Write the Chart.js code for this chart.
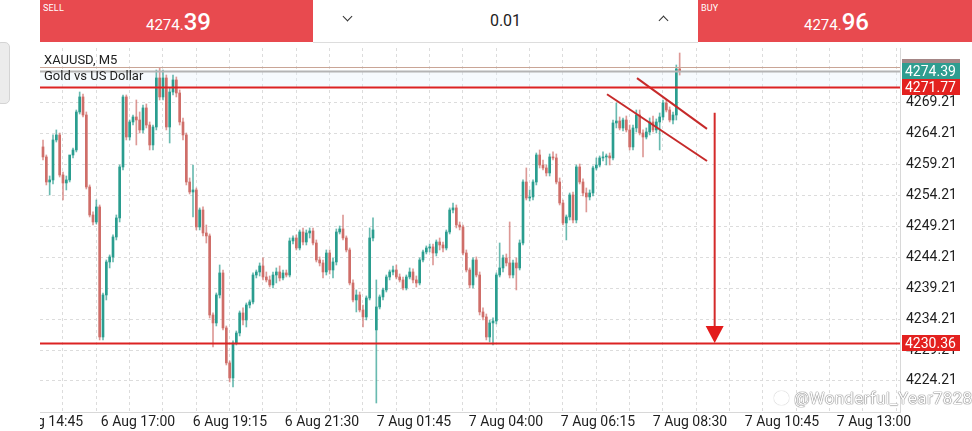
<!DOCTYPE html>
<html>
<head>
<meta charset="utf-8">
<script src="https://cdn.jsdelivr.net/npm/chart.js@4.4.0/dist/chart.umd.min.js"></script>
<style>
  html, body { margin: 0; padding: 0; background: #fff; }
  body { width: 972px; height: 431px; position: relative; overflow: hidden; font-family: Roboto, "Noto Sans", sans-serif; }
  #chart { position: absolute; left: 0; top: 0; }
  .box { position: absolute; top: 0; height: 42px; color: #fff; }
  .red { background: #e84a4f; }
  .tag { position: absolute; left: 3px; top: 3px; font-size: 9px; letter-spacing: 0.2px; }
  .px { position: absolute; top: 8px; font-size: 15px; white-space: nowrap; }
  .px b { font-size: 24px; font-weight: 500; }
  #mid { left: 313px; width: 385px; background: #fff; border-bottom: 1px solid #ddd; }
  .chev { position: absolute; top: 15px; width: 6px; height: 6px; border-right: 1.5px solid #333; border-bottom: 1.5px solid #333; }
  #lot { position: absolute; left: 0; width: 385px; top: 11px; text-align: center; font-size: 16px; color: #222; }
  .legend { position: absolute; left: 44px; font-size: 13px; color: #222; line-height: 14px; }
  #side { position: absolute; left: -4px; top: 42px; width: 12px; height: 60px; background: #ececec; border: 1px solid #d4d4d4; border-radius: 5px; }
  #mark { position: absolute; left: 774px; top: 388px; font-size: 17px; color: #fff; letter-spacing: 0.3px;
          text-shadow: 0 0 1px #777, 0 0 1px #777, 0 0 1px #777; white-space: nowrap; }
  #mark i { display: inline-block; width: 13px; height: 12px; border: 1.5px solid #fff; border-radius: 50%;
            box-shadow: 0 0 1px #777; margin-right: 5px; vertical-align: -1px; }
</style>
</head>
<body>
<canvas id="chart" width="972" height="431"></canvas>

<div id="side"></div>
<div class="box red" style="left:40px;width:273px;">
  <span class="tag">SELL</span>
  <span class="px" style="left:106px;">4274.<b>39</b></span>
</div>
<div class="box" id="mid">
  <span class="chev" style="left:31px;transform:rotate(45deg);top:13px;"></span>
  <div id="lot">0.01</div>
  <span class="chev" style="left:347px;transform:rotate(-135deg);top:17px;"></span>
</div>
<div class="box red" style="left:698px;width:274px;">
  <span class="tag">BUY</span>
  <span class="px" style="left:106px;">4274.<b>96</b></span>
</div>
<div class="legend" style="top:53px;">XAUUSD, M5</div>
<div class="legend" style="top:69px;">Gold vs US Dollar</div>
<div id="mark"><i></i>@Wonderful_Year7828</div>

<script>
// 5-minute candles, left to right
const opens = [
  4262.07, 4260.45, 4256.40, 4256.73, 4263.20, 4264.01, 4257.53, 4256.24, 4256.73, 4260.77,
  4261.58, 4267.73, 4270.16, 4267.24, 4255.59, 4251.06, 4249.93, 4252.36, 4231.32, 4238.12,
  4243.46, 4244.27, 4247.50, 4250.58, 4258.83, 4270.16, 4263.68, 4266.11, 4266.92, 4266.43,
  4264.82, 4268.38, 4265.62, 4262.39, 4265.30, 4273.23, 4270.16, 4273.23, 4265.30, 4270.96,
  4272.91, 4270.80, 4266.11, 4264.01, 4256.40, 4254.78, 4255.11, 4249.12, 4251.87, 4248.15,
  4247.67, 4234.88, 4233.59, 4238.12, 4241.68, 4232.78, 4227.12, 4224.69, 4230.35, 4231.97,
  4235.21, 4234.07, 4236.50, 4236.99, 4241.35, 4241.84, 4242.81, 4241.03, 4240.55, 4239.74,
  4241.35, 4241.84, 4240.87, 4241.68, 4241.35, 4246.86, 4247.34, 4245.72, 4248.31, 4246.69,
  4248.15, 4248.47, 4246.53, 4243.78, 4243.30, 4241.84, 4244.91, 4242.16, 4243.46, 4248.31,
  4248.80, 4247.34, 4245.40, 4240.06, 4237.31, 4238.12, 4235.69, 4234.56, 4237.63, 4247.34,
  4232.46, 4236.18, 4237.80, 4238.93, 4241.03, 4241.84, 4242.16, 4241.03, 4240.55, 4239.25,
  4241.03, 4241.84, 4240.55, 4240.06, 4243.78, 4245.08, 4245.72, 4245.89, 4244.91, 4246.69,
  4246.21, 4245.72, 4248.31, 4251.87, 4252.20, 4249.44, 4249.12, 4244.91, 4242.16, 4239.74,
  4243.78, 4241.35, 4235.37, 4234.56, 4231.32, 4233.59, 4233.91, 4241.35, 4242.49, 4244.11,
  4243.30, 4241.35, 4243.30, 4242.49, 4246.53, 4256.40, 4253.81, 4253.98, 4256.40, 4260.77,
  4259.15, 4258.67, 4257.86, 4260.45, 4260.29, 4256.40, 4253.00, 4249.77, 4250.74, 4254.30,
  4250.25, 4258.83, 4256.40, 4254.62, 4253.98, 4254.62, 4258.67, 4259.15, 4260.29, 4260.45,
  4260.61, 4260.29, 4265.95, 4266.27, 4265.14, 4266.43, 4264.82, 4262.07, 4265.14, 4267.24,
  4264.33, 4263.68, 4264.49, 4266.11, 4264.82, 4266.11, 4266.92, 4269.18, 4268.05, 4266.43,
  4267.24, 4274.69
];
const highs = [
  4263.20, 4260.77, 4257.37, 4264.01, 4264.82, 4264.33, 4258.02, 4257.37, 4258.02, 4261.90,
  4268.05, 4270.96, 4270.64, 4267.73, 4255.92, 4251.55, 4253.49, 4252.68, 4238.44, 4243.78,
  4244.59, 4247.83, 4251.06, 4259.15, 4270.48, 4270.48, 4266.43, 4267.24, 4269.67, 4267.73,
  4268.86, 4269.02, 4266.11, 4265.62, 4274.52, 4274.85, 4274.52, 4273.71, 4271.61, 4273.71,
  4273.39, 4271.29, 4266.76, 4264.33, 4257.05, 4259.15, 4255.43, 4252.20, 4252.36, 4249.44,
  4247.99, 4235.21, 4238.44, 4242.97, 4242.16, 4233.10, 4227.44, 4230.68, 4232.29, 4235.53,
  4236.02, 4236.82, 4237.31, 4241.68, 4242.16, 4243.30, 4244.11, 4241.84, 4241.19, 4241.84,
  4242.49, 4242.81, 4242.16, 4242.16, 4247.34, 4247.67, 4247.83, 4248.64, 4248.96, 4248.64,
  4248.96, 4248.96, 4247.02, 4244.27, 4243.78, 4245.40, 4245.40, 4244.11, 4248.80, 4249.28,
  4251.06, 4247.67, 4245.72, 4240.55, 4238.93, 4238.60, 4236.50, 4237.96, 4248.96, 4250.58,
  4240.55, 4238.12, 4239.25, 4241.35, 4242.16, 4242.81, 4242.97, 4241.52, 4241.03, 4241.35,
  4242.49, 4242.33, 4241.19, 4244.11, 4245.40, 4246.05, 4246.37, 4246.37, 4247.02, 4247.34,
  4246.69, 4248.64, 4252.20, 4253.00, 4252.68, 4249.93, 4249.44, 4245.40, 4242.49, 4244.11,
  4244.27, 4241.84, 4236.02, 4235.04, 4234.07, 4234.40, 4241.68, 4246.53, 4244.59, 4244.75,
  4249.93, 4243.78, 4244.11, 4247.02, 4256.73, 4258.67, 4255.11, 4256.73, 4261.09, 4261.58,
  4259.96, 4259.15, 4260.93, 4261.26, 4260.93, 4257.05, 4253.49, 4251.06, 4254.62, 4254.78,
  4259.15, 4259.31, 4256.89, 4255.43, 4255.11, 4258.99, 4260.29, 4260.61, 4261.26, 4260.93,
  4261.09, 4266.43, 4269.18, 4266.92, 4266.76, 4267.08, 4265.62, 4265.62, 4268.05, 4268.05,
  4264.82, 4265.14, 4266.76, 4267.08, 4266.60, 4267.57, 4269.67, 4269.67, 4268.54, 4267.73,
  4275.33, 4277.27
];
const lows = [
  4259.96, 4255.92, 4254.30, 4256.08, 4262.87, 4257.21, 4253.49, 4255.11, 4256.40, 4260.29,
  4261.26, 4267.40, 4266.92, 4255.27, 4250.74, 4249.44, 4249.61, 4230.84, 4230.84, 4237.31,
  4242.49, 4243.46, 4247.02, 4249.93, 4258.34, 4263.20, 4263.20, 4265.62, 4262.39, 4264.33,
  4264.33, 4265.14, 4261.58, 4261.58, 4264.82, 4269.67, 4269.67, 4264.82, 4262.71, 4270.48,
  4270.16, 4265.62, 4263.20, 4255.92, 4254.46, 4250.74, 4248.64, 4248.64, 4247.67, 4246.53,
  4234.40, 4229.71, 4233.10, 4237.63, 4232.46, 4226.79, 4224.04, 4223.23, 4230.03, 4231.49,
  4233.26, 4232.94, 4236.02, 4236.66, 4240.87, 4241.19, 4240.55, 4240.22, 4239.41, 4239.25,
  4240.06, 4240.38, 4240.55, 4241.03, 4241.03, 4246.37, 4245.40, 4245.40, 4246.21, 4246.21,
  4247.34, 4246.21, 4243.46, 4242.81, 4240.87, 4241.35, 4241.52, 4240.87, 4242.97, 4247.99,
  4247.02, 4245.08, 4239.74, 4236.99, 4235.37, 4235.37, 4232.94, 4234.07, 4237.31, 4246.86,
  4220.64, 4235.85, 4237.31, 4238.60, 4240.55, 4241.35, 4240.71, 4240.22, 4238.93, 4238.93,
  4240.71, 4240.06, 4239.41, 4239.74, 4243.46, 4244.75, 4245.08, 4242.97, 4244.43, 4245.40,
  4245.08, 4245.40, 4247.99, 4251.39, 4248.96, 4248.64, 4244.59, 4241.84, 4239.25, 4239.25,
  4241.03, 4234.88, 4234.07, 4230.84, 4230.51, 4230.03, 4233.43, 4241.03, 4241.84, 4242.81,
  4240.87, 4240.87, 4238.93, 4242.16, 4246.21, 4253.49, 4253.33, 4253.49, 4255.92, 4258.67,
  4258.34, 4257.37, 4257.37, 4259.96, 4256.08, 4252.68, 4249.44, 4247.02, 4250.25, 4249.77,
  4249.77, 4256.08, 4254.14, 4251.55, 4253.49, 4254.14, 4258.34, 4258.83, 4259.80, 4259.15,
  4259.15, 4259.96, 4265.14, 4264.82, 4264.65, 4264.49, 4261.58, 4261.58, 4264.49, 4264.01,
  4260.45, 4263.36, 4264.01, 4264.49, 4264.33, 4261.58, 4266.43, 4267.73, 4266.11, 4265.79,
  4266.43, 4273.71
];
const closes = [
  4260.45, 4256.40, 4256.73, 4263.20, 4264.01, 4257.53, 4256.24, 4256.73, 4260.77, 4261.58,
  4267.73, 4270.16, 4267.24, 4255.59, 4251.06, 4249.93, 4252.36, 4231.32, 4238.12, 4243.46,
  4244.27, 4247.50, 4250.58, 4258.83, 4270.16, 4263.68, 4266.11, 4266.92, 4266.43, 4264.82,
  4268.38, 4265.62, 4262.39, 4265.30, 4273.23, 4270.16, 4273.23, 4265.30, 4270.96, 4272.91,
  4270.80, 4266.11, 4264.01, 4256.40, 4254.78, 4255.11, 4249.12, 4251.87, 4248.15, 4247.67,
  4234.88, 4233.59, 4238.12, 4241.68, 4232.78, 4227.12, 4224.69, 4230.35, 4231.97, 4235.21,
  4234.07, 4236.50, 4236.99, 4241.35, 4241.84, 4242.81, 4241.03, 4240.55, 4239.74, 4241.35,
  4241.84, 4240.87, 4241.68, 4241.35, 4246.86, 4247.34, 4245.72, 4248.31, 4246.69, 4248.15,
  4248.47, 4246.53, 4243.78, 4243.30, 4241.84, 4244.91, 4242.16, 4243.46, 4248.31, 4248.80,
  4247.34, 4245.40, 4240.06, 4237.31, 4238.12, 4235.69, 4234.56, 4237.63, 4247.34, 4248.64,
  4236.18, 4237.80, 4238.93, 4241.03, 4241.84, 4242.16, 4241.03, 4240.55, 4239.25, 4241.03,
  4241.84, 4240.55, 4240.06, 4243.78, 4245.08, 4245.72, 4245.89, 4244.91, 4246.69, 4246.21,
  4245.72, 4248.31, 4251.87, 4252.20, 4249.44, 4249.12, 4244.91, 4242.16, 4239.74, 4243.78,
  4241.35, 4235.37, 4234.56, 4231.32, 4233.59, 4233.91, 4241.35, 4242.49, 4244.11, 4243.30,
  4241.35, 4243.30, 4242.49, 4246.53, 4256.40, 4253.81, 4253.98, 4256.40, 4260.77, 4259.15,
  4258.67, 4257.86, 4260.45, 4260.29, 4256.40, 4253.00, 4249.77, 4250.74, 4254.30, 4250.25,
  4258.83, 4256.40, 4254.62, 4253.98, 4254.62, 4258.67, 4259.15, 4260.29, 4260.45, 4260.61,
  4260.29, 4265.95, 4266.27, 4265.14, 4266.43, 4264.82, 4262.07, 4265.14, 4267.24, 4264.33,
  4263.68, 4264.49, 4266.11, 4264.82, 4266.11, 4266.92, 4269.18, 4268.05, 4266.43, 4267.24,
  4274.69, 4274.39
];

// axis ticks (x in bar units)
const yTicks = [4224.21, 4229.21, 4234.21, 4239.21, 4244.21, 4249.21, 4254.21, 4259.21, 4264.21, 4269.21, 4274.21];
const xTickPos = [0.9, 28.5, 56.1, 83.7, 111.3, 138.9, 166.5, 194.1, 221.7, 249.3];
const xTickLabels = ["6 Aug 14:45", "6 Aug 17:00", "6 Aug 19:15", "6 Aug 21:30", "7 Aug 01:45",
  "7 Aug 04:00", "7 Aug 06:15", "7 Aug 08:30", "7 Aug 10:45", "7 Aug 13:00"];

// prices and drawn objects
const bid = 4274.39;
const ask = 4274.96;
const levels = [4271.77, 4230.36];
const trendLines = [
  [{ x: 178.2, y: 4273.2 }, { x: 199.2, y: 4265.0 }],
  [{ x: 169.2, y: 4270.6 }, { x: 199.2, y: 4259.8 }]
];
const arrow = { x: 201.5, from: 4267.6, to: 4230.36 };

const X_MIN = -0.9, X_MAX = 257.1;
const Y_MIN = 4219.18, Y_MAX = 4278.08;
const UP = "#2a9d8f", DOWN = "#cf6e69", LEVEL = "#dc2222", GRID = "#dcdcdc";

const idx = opens.map((_, i) => i);
const up = idx.map((i) => closes[i] >= opens[i]);
const gridX = [];
for (let v = 0.9; v < X_MAX; v += 10) gridX.push(v);

const overlay = {
  id: "overlay",
  beforeDatasetsDraw(chart) {
    const { ctx, chartArea: a, scales: { y } } = chart;
    // pale band between bid line and top level
    const yb = y.getPixelForValue(bid);
    const yl = y.getPixelForValue(levels[0]);
    ctx.save();
    ctx.fillStyle = "rgba(230,240,248,0.35)";
    ctx.fillRect(a.left, yb, a.right - a.left, yl - yb);
    ctx.restore();
  },
  afterDatasetsDraw(chart) {
    const { ctx, chartArea: a, scales: { x, y } } = chart;
    ctx.save();
    const hline = (v, color, w) => {
      const py = Math.round(y.getPixelForValue(v)) + 0.5;
      ctx.strokeStyle = color;
      ctx.lineWidth = w;
      ctx.beginPath();
      ctx.moveTo(a.left, py);
      ctx.lineTo(a.right, py);
      ctx.stroke();
    };
    hline(ask, "#c9a596", 1);
    hline(bid, "#b4b4b4", 2);
    levels.forEach((v) => hline(v, LEVEL, 2));

    // vertical arrow
    const ax = x.getPixelForValue(arrow.x);
    const y0 = y.getPixelForValue(arrow.from);
    const y1 = y.getPixelForValue(arrow.to);
    ctx.strokeStyle = "#d42a2a";
    ctx.lineWidth = 2;
    ctx.beginPath();
    ctx.moveTo(ax, y0);
    ctx.lineTo(ax, y1 - 14);
    ctx.stroke();
    ctx.fillStyle = "#e31b1b";
    ctx.beginPath();
    ctx.moveTo(ax - 9, y1 - 17);
    ctx.lineTo(ax + 9, y1 - 17);
    ctx.lineTo(ax, y1);
    ctx.closePath();
    ctx.fill();
    ctx.restore();
  },
  afterDraw(chart) {
    const { ctx, chartArea: a, scales: { y } } = chart;
    ctx.save();
    // hide the part of the first time label left of the plot
    ctx.fillStyle = "#fff";
    ctx.fillRect(0, a.bottom + 1, a.left, chart.height - a.bottom);

    const tag = (v, color, txt) => {
      const py = Math.round(y.getPixelForValue(v));
      ctx.fillStyle = color;
      ctx.fillRect(a.right + 2, py - 8, 58, 16);
      if (txt) {
        ctx.fillStyle = "#fff";
        ctx.font = "14px Roboto";
        ctx.textBaseline = "middle";
        ctx.textAlign = "left";
        ctx.fillText(v.toFixed(2), a.right + 5, py + 1);
      }
    };
    tag(ask, "#a48686", false);
    tag(bid, "#2f9d90", true);
    levels.forEach((v) => tag(v, "#e3211f", true));
    ctx.restore();
  }
};

new Chart(document.getElementById("chart"), {
  type: "bar",
  data: {
    datasets: [
      {
        label: "wick",
        data: idx.map((i) => ({ x: i, y: [lows[i], highs[i]] })),
        backgroundColor: up.map((u) => (u ? "rgba(42,157,143,0.7)" : "rgba(207,110,105,0.7)")),
        barThickness: 1,
        grouped: false,
        order: 2
      },
      {
        label: "body",
        data: idx.map((i) => ({ x: i, y: [opens[i], closes[i]] })),
        backgroundColor: up.map((u) => (u ? UP : DOWN)),
        barThickness: 2,
        minBarLength: 1,
        grouped: false,
        order: 1
      },
      ...trendLines.map((pts) => ({
        type: "line",
        label: "trend",
        data: pts,
        borderColor: "#c62a2a",
        borderWidth: 2,
        pointRadius: 0,
        order: 0
      }))
    ]
  },
  options: {
    responsive: false,
    animation: false,
    devicePixelRatio: 1,
    layout: { padding: { left: 40, top: 48, right: 0, bottom: 0 } },
    plugins: { legend: { display: false }, tooltip: { enabled: false } },
    scales: {
      x: {
        type: "linear",
        min: X_MIN,
        max: X_MAX,
        offset: false,
        grid: { display: false, drawTicks: false },
        border: { display: true, color: "#d8d8d8" },
        afterBuildTicks: (s) => { s.ticks = xTickPos.map((v) => ({ value: v })); },
        afterFit: (s) => { s.height = 19; },
        ticks: {
          autoSkip: false,
          maxRotation: 0,
          minRotation: 0,
          padding: 2,
          color: "#1e1e1e",
          font: { family: "Roboto", size: 14 },
          callback: (v) => xTickLabels[xTickPos.indexOf(v)]
        }
      },
      xg: {
        type: "linear",
        position: "top",
        min: X_MIN,
        max: X_MAX,
        offset: false,
        ticks: { display: false },
        grid: { color: GRID, drawTicks: false },
        border: { display: false, dash: [3, 3] },
        afterBuildTicks: (s) => { s.ticks = gridX.map((v) => ({ value: v })); },
        afterFit: (s) => { s.height = 0; }
      },
      y: {
        position: "right",
        min: Y_MIN,
        max: Y_MAX,
        grid: { color: GRID, drawTicks: false },
        border: { display: true, color: "#d8d8d8", dash: [3, 3] },
        afterBuildTicks: (s) => { s.ticks = yTicks.map((v) => ({ value: v })); },
        afterFit: (s) => { s.width = 72; },
        ticks: {
          padding: 6,
          color: "#1e1e1e",
          font: { family: "Roboto", size: 14 },
          callback: (v) => v.toFixed(2)
        }
      }
    }
  },
  plugins: [overlay]
});
</script>
</body>
</html>
